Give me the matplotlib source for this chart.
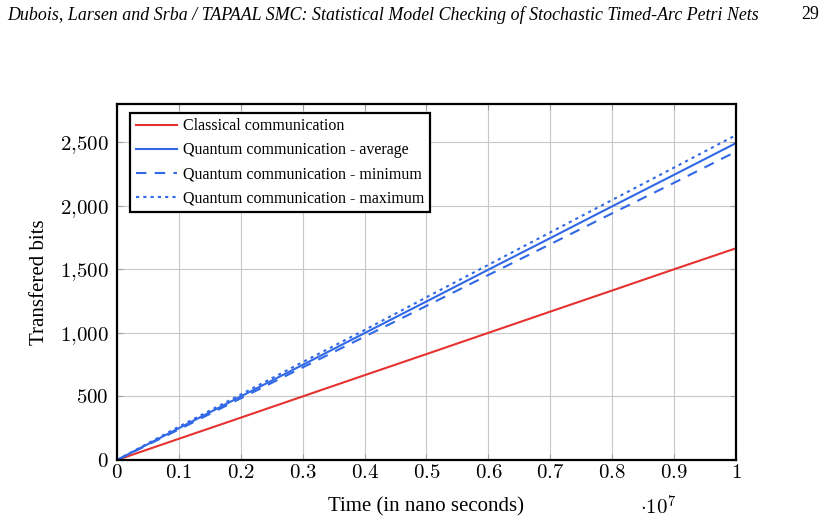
import matplotlib.pyplot as plt
from matplotlib.ticker import FuncFormatter, MultipleLocator

plt.rcParams['mathtext.fontset'] = 'cm'
plt.rcParams['font.family'] = ['Liberation Serif', 'DejaVu Serif']

# Data (time in nano seconds, transferred bits)
time_ns = [0, 1e6, 2e6, 3e6, 4e6, 5e6, 6e6, 7e6, 8e6, 9e6, 1e7]
classical = [0, 167, 333, 500, 667, 833, 1000, 1167, 1333, 1500, 1665]
quantum_avg = [0, 250, 500, 748, 998, 1247, 1497, 1745, 1995, 2243, 2492]
quantum_min = [0, 240, 485, 728, 970, 1212, 1455, 1697, 1940, 2180, 2425]
quantum_max = [0, 262, 515, 770, 1022, 1280, 1535, 1790, 2045, 2300, 2555]

red = '#e5322f'
blue = '#3168e6'

fig = plt.figure(figsize=(8.32, 5.25), dpi=100)
ax = fig.add_axes([0.1406, 0.1238, 0.7440, 0.6782])

ax.plot(time_ns, classical, color=red, lw=1.5, label='Classical communication')
ax.plot(time_ns, quantum_avg, color=blue, lw=1.5, label='Quantum communication - average')
ax.plot(time_ns, quantum_min, color=blue, lw=1.5, ls=(0, (5, 4)), label='Quantum communication - minimum')
ax.plot(time_ns, quantum_max, color=blue, lw=1.5, ls=(0, (1.5, 2)), label='Quantum communication - maximum')

ax.set_xlim(0, 1e7)
ax.set_ylim(0, 2800)
ax.xaxis.set_major_locator(MultipleLocator(1e6))
ax.yaxis.set_major_locator(MultipleLocator(500))


def xfmt(v, pos):
    s = f'{v / 1e7:.1f}'
    if s == '0.0':
        s = '0'
    if s == '1.0':
        s = '1'
    return f'${s}$'


def yfmt(v, pos):
    return '$' + f'{int(round(v)):,}'.replace(',', '{,}') + '$'


ax.xaxis.set_major_formatter(FuncFormatter(xfmt))
ax.yaxis.set_major_formatter(FuncFormatter(yfmt))
ax.tick_params(axis='both', direction='in', length=4, color='#a0a0a0',
               labelsize=15, top=True, right=True)
ax.tick_params(axis='x', pad=3)
ax.tick_params(axis='y', pad=6)
ax.grid(True, color='#c8c8c8', lw=0.8)
ax.set_axisbelow(True)
for sp in ax.spines.values():
    sp.set_linewidth(1.6)

ax.set_xlabel('Time (in nano seconds)', fontsize=15, labelpad=10)
ax.set_ylabel('Transfered bits', fontsize=15, labelpad=8)
ax.text(0.874, -0.135, r'$\cdot 10^7$', transform=ax.transAxes, ha='center',
        va='center', fontsize=15)

leg = ax.legend(loc='upper left', bbox_to_anchor=(0.021, 0.975), fontsize=11.5,
                fancybox=False, framealpha=1, edgecolor='black',
                borderpad=0.35, labelspacing=0.5, handlelength=2.6,
                handletextpad=0.4, borderaxespad=0)
leg.get_frame().set_linewidth(1.6)

fig.text(0.009, 0.988, 'Dubois, Larsen and Srba / TAPAAL SMC: Statistical Model Checking of Stochastic Timed-Arc Petri Nets',
         style='italic', fontsize=12.9, va='top', ha='left')
fig.text(0.984, 0.988, '29', fontsize=12.9, va='top', ha='right')

fig.savefig('out.png', dpi=100)
